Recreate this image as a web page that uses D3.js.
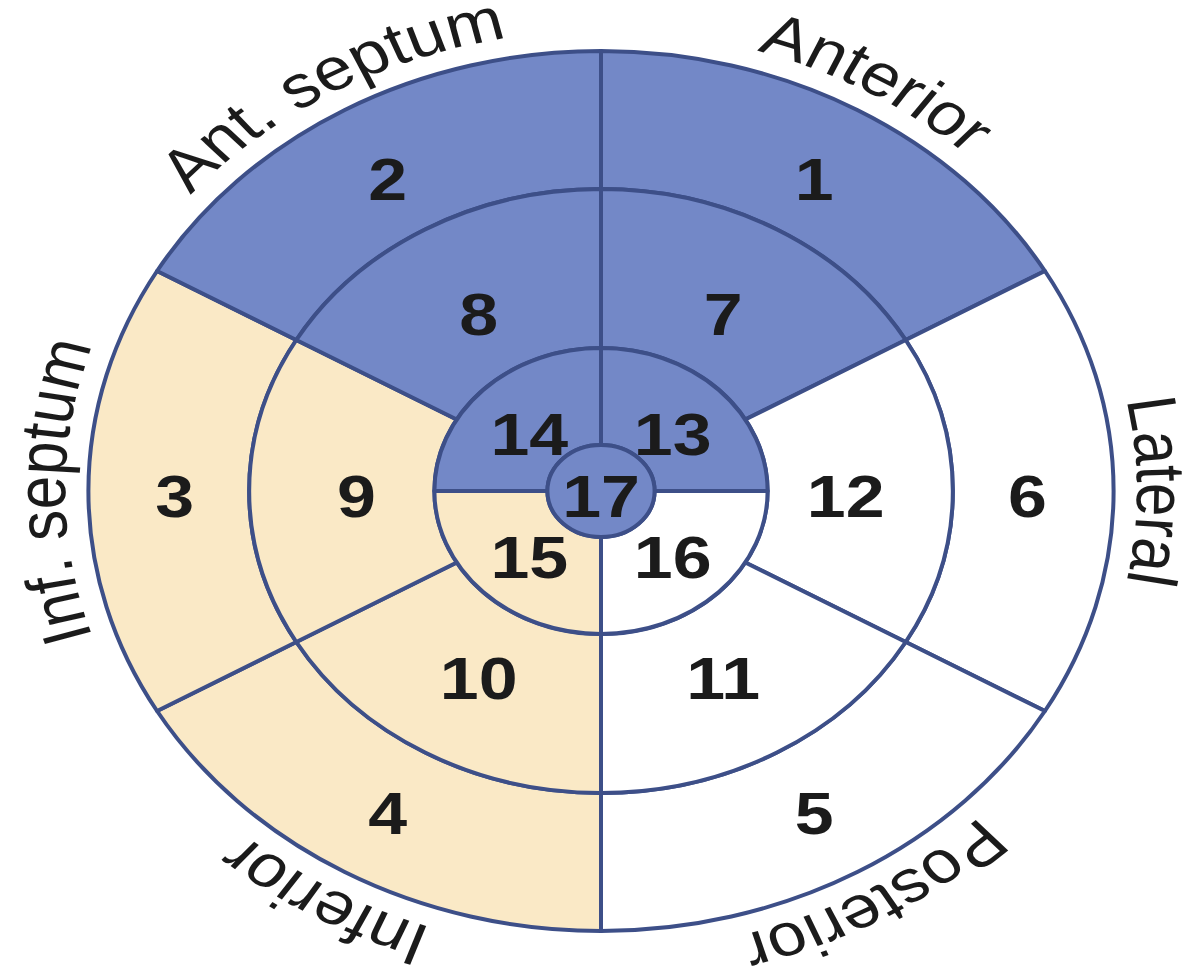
<!DOCTYPE html>
<html>
<head>
<meta charset="utf-8">
<script src="https://cdn.jsdelivr.net/npm/d3@7"></script>
<style>
  html, body { margin: 0; padding: 0; background: #ffffff; }
  svg { display: block; }
</style>
</head>
<body>
<svg id="chart" width="1192" height="973"></svg>
<script>
// ---- data ----
const basalSegments = [1, 6, 5, 4, 3, 2];      // clockwise from 12 o'clock, 60° each
const midSegments = [7, 12, 11, 10, 9, 8];     // clockwise from 12 o'clock, 60° each
const apicalSegments = [13, 16, 15, 14];       // clockwise from 12 o'clock, 90° each
const apexSegments = [17];
const wallLabels = ["Anterior", "Lateral", "Posterior", "Inferior", "Inf. septum", "Ant. septum"];
const blueSegments = [1, 2, 7, 8, 13, 14, 17];
const beigeSegments = [3, 4, 9, 10, 15];
const whiteSegments = [5, 6, 11, 12, 16];

// ---- layout ----
const W = 1192, H = 973;
const cx = 601, cy = 491, sx = 1.165;
const R = { outer: 440, mid: 302, inner: 143, apex: 46 };
const colorOf = id => blueSegments.includes(id) ? "#7388c7"
                    : beigeSegments.includes(id) ? "#fae9c6" : "#ffffff";

const svg = d3.select("#chart");
const g = svg.append("g").attr("transform", `translate(${cx},${cy}) scale(${sx},1)`);

const rings = [
  { ids: basalSegments, r0: R.mid, r1: R.outer, labelR: 366 },
  { ids: midSegments, r0: R.inner, r1: R.mid, labelR: 210 },
  { ids: apicalSegments, r0: R.apex, r1: R.inner, labelR: 87 }
];

const arc = d3.arc();
const segs = [];
rings.forEach(ring => {
  const step = 2 * Math.PI / ring.ids.length;
  ring.ids.forEach((id, i) => {
    segs.push({ id, innerRadius: ring.r0, outerRadius: ring.r1,
      startAngle: i * step, endAngle: (i + 1) * step, labelR: ring.labelR });
  });
});
apexSegments.forEach(id => segs.push({ id, innerRadius: 0, outerRadius: R.apex,
  startAngle: 0, endAngle: 2 * Math.PI, labelR: 0 }));

g.selectAll("path.seg").data(segs).join("path")
  .attr("class", "seg")
  .attr("d", d => arc(d))
  .attr("fill", d => colorOf(d.id))
  .attr("stroke", "#3d4f88")
  .attr("stroke-width", 4)
  .attr("stroke-linejoin", "round")
  .attr("vector-effect", "non-scaling-stroke");

g.selectAll("text.num").data(segs).join("text")
  .attr("class", "num")
  .attr("x", d => d.labelR * Math.sin((d.startAngle + d.endAngle) / 2))
  .attr("y", d => -d.labelR * Math.cos((d.startAngle + d.endAngle) / 2) + 5)
  .attr("text-anchor", "middle")
  .attr("dominant-baseline", "central")
  .attr("font-family", "'Liberation Sans', Arial, sans-serif")
  .attr("font-weight", "bold")
  .attr("font-size", 60)
  .attr("fill", "#1b1b1b")
  .text(d => d.id);

// wall labels along clockwise arcs outside the outer ring
const labelR = 460;
wallLabels.forEach((name, i) => {
  const mid = (i * 60 + 30) * Math.PI / 180;
  const p = d3.path();
  const a0 = mid - Math.PI / 2 - Math.PI / 3, a1 = mid - Math.PI / 2 + Math.PI / 3;
  p.moveTo(labelR * Math.cos(a0), labelR * Math.sin(a0));
  p.arc(0, 0, labelR, a0, a1, false);
  g.append("path").attr("id", "wall" + i).attr("d", p.toString()).attr("fill", "none");
  g.append("text")
    .attr("font-family", "'Liberation Sans', Arial, sans-serif")
    .attr("font-size", 60)
    .attr("fill", "#1b1b1b")
    .append("textPath")
    .attr("href", "#wall" + i)
    .attr("startOffset", "50%")
    .attr("text-anchor", "middle")
    .text(name);
});
</script>
</body>
</html>
